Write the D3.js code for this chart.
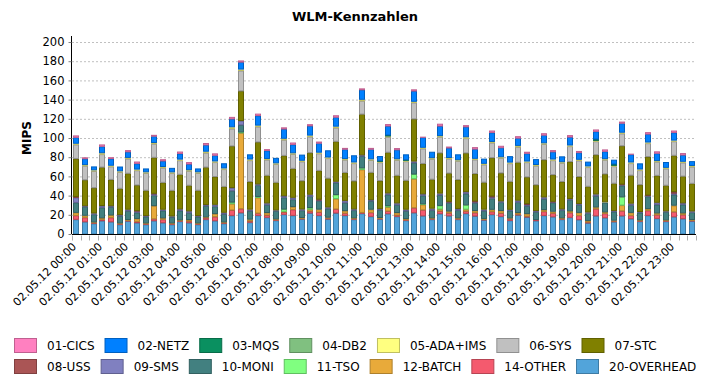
<!DOCTYPE html>
<html><head><meta charset="utf-8">
<script src="https://cdn.jsdelivr.net/npm/d3@7"></script>
<style>body{margin:0;background:#fff}svg{display:block}text{font-family:"DejaVu Sans",sans-serif}</style>
</head><body>
<svg id="c" width="711" height="386"></svg>
<script>
const hours = ["00","01","02","03","04","05","06","07","08","09","10","11","12","13","14","15","16","17","18","19","20","21","22","23"];
const minutes = ["00","20","40"];
const categories = hours.flatMap(h => minutes.map(m => "02.05.12 " + h + ":" + m));
const tickLabels = hours.map(h => "02.05.12 " + h + ":00");
const yTicks = [0,20,40,60,80,100,120,140,160,180,200];

const OVERHEAD = [15.3,12.8,11,13.9,12.8,10,13.5,11.8,10,13.9,11.8,10,13.2,11.8,10,15.3,13.9,11,
 19.4,22.2,12.2,19.4,17.4,14.2,20.5,19.4,15.6,21.9,19.4,15.6,21.9,19.4,15.3,21.5,18.4,15.6,
 21.2,18.4,14.2,22.2,19,15.3,21.2,19,15.3,21.5,18.8,14.6,20.5,18.4,14.2,19.8,17.7,13.9,
 19.4,18,15.3,17.4,15,11.5,19,17,12.8,19,16,13.2,19.4,16.3,13.2,18,16,13.5];
const OTHER = [4.2,4.5,0.7,1.4,4.5,0.7,0.7,1.4,0.7,2,3.5,0.7,0.7,1.7,0.7,1.7,4.2,0.7,
 5.6,4.2,1.4,2.4,2.4,0.7,2.4,6.2,0.7,2,3.5,1,4.2,2.4,0.7,1,4.2,0.7,
 2.8,1.4,0.7,5.2,6.2,0.7,2.8,3,0.7,2.4,3.5,0.7,3,3.5,1.7,1,1,0.7,
 4.2,3.8,0.7,4.9,4.5,1,7.3,4.5,0.7,5.2,3.5,0.7,5.2,3.8,0.7,5.2,4.2,0.7];
const BATCH = [2.8,2,0.7,1.4,2.4,0.7,0.7,2.8,0.7,13.5,1.4,0.7,0.7,1.4,0.7,0.7,3,0.7,
 6.6,79,1.7,16.3,2.4,0.7,0.7,2.8,0.7,2,2.8,0.7,10.8,2.4,0.7,44.8,3,0.7,
 4.2,2.4,1,30.2,5.6,0.7,2,1.7,0.7,2,2,0.7,2,2.4,0.7,1.4,2.4,0.3,
 1.7,1.7,0.7,1.7,2.8,1.4,1.7,1.4,0.7,5.9,2.8,0.7,1.7,1.7,0.7,6.6,1.7,0.7];
const TSO = [0.2,0.2,0.2,0.2,0.2,0.2,0.2,0.2,0.2,0.2,0.2,0.2,0.2,0.2,0.2,0.2,0.2,0.2,
 1.7,1,0.2,1,0.2,0.2,2.4,0.2,0.2,1.7,0.2,0.2,4.2,0.2,0.2,1.7,0.2,0.2,
 1.4,0.2,0.2,4.9,0.7,0.2,3.8,0.2,0.2,4.5,0.2,0.2,0.2,0.2,0.2,0.2,0.2,0.2,
 0.2,0.2,0.2,0.2,0.2,0.2,0.2,0.2,0.2,8.7,0.2,0.2,0.2,0.2,0.2,0.2,0.2,0.2];
const MONI = [10.4,9,8,10.8,8.3,7.3,9,6.2,6.6,10.8,7.6,6.2,9.7,7,6.6,11.5,7.6,8.3,
 11.8,7.3,8.7,11.8,8,8.3,12.2,7.6,7.6,11.8,8.7,9,12.5,8.3,8,12.2,8.7,8,
 11.5,8,8,11.8,8.7,8,10.8,8.7,8,11.8,8,8,11.5,8.7,7.6,10.8,8,8,
 11.1,9,8,11.5,8,7.6,11.5,9.7,9,11.8,7.6,7.6,12.8,8.7,8.3,11.1,8.7,7.6];
const SMS = [5.2,0.7,1,1.7,1,1,1.4,1.4,0.7,1.4,1,0.7,1.4,1.7,0.7,1,1.7,1.4,
 3,4.2,1.4,1,1.7,0.7,1.4,1.7,1,1.7,0.7,1.4,1,2,1,1,1,1,
 1.4,1.7,1.4,1.4,1.4,1.7,1.7,0.7,1.4,1.7,1,1.4,1.4,1,1,1.7,1.4,1,
 1.7,0.7,1,1,1,1,1.7,0.4,0.7,0.7,1.7,0.7,0.7,2,0.7,1.4,1.4,1];
const USS = [1,0.3,0.3,0.3,0.3,0.3,0.3,0.6,0.3,0.6,0.3,0.3,0.3,0.3,0.3,0.3,0.3,0.3,
 0.3,0.3,0.3,0.3,0.3,0.3,0.3,0.3,0.3,0.3,1,0.3,0.3,0.3,0.3,0.3,0.3,0.3,
 0.3,0.3,0.3,0.3,0.3,0.3,0.3,0.7,0.3,0.3,1,0.3,1,0.3,0.3,0.3,1,0.3,
 0.3,0.7,0.3,0.3,0.3,0.3,0.3,0.3,0.3,0.7,0.3,0.3,0.7,0.3,0.3,1.7,0.3,0.3];
const STC = [39.6,27,26.4,40,27.4,27.4,37.5,26.7,26.4,37.5,28,26.7,36,26.7,26.4,39,29,27,
 43.4,30.9,28.8,43.7,28.8,28.8,42,30.2,29.5,43.4,30,30,41.7,29.2,29.2,42.4,28.5,29.2,
 42.4,28.8,30.2,44,31.6,30.2,42,29.5,30.2,40.3,28.5,28.1,40,29.2,29.2,39.6,27.8,27,
 38.9,27.8,28.5,38.5,28.1,26.7,41,29.2,28.5,40,29.2,28.1,40,28.1,26.7,37.8,27.8,28.8];
const SYS = [14.6,14.6,17.4,13.5,13.5,17,15.3,15.3,18,14.2,15.3,18,14.6,15,18,15,15,18,
 18,21.2,22.2,16,16.3,19,16.3,15,20,16.7,17.7,20.8,14.2,13.2,18.4,13.9,12.8,19,
 16,16,19.8,17,15.6,21.2,16.7,15,19.4,15.3,14.6,18.4,15.6,15.6,18.8,16,15.3,19.8,
 16.3,15,19.4,16,16.7,20,13.9,14.6,17.7,12.8,12.5,15,13.9,14.2,17.4,14.6,14.2,17.4];
const ADA = [0.7,0.7,0.7,1,0.7,0.7,0.7,0.7,0.7,0.7,0.7,0.7,0.7,0.7,0.7,1,0.7,0.7,
 1.4,1,0.7,1,0.7,0.7,1,0.7,0.7,1,0.7,0.7,1,0.7,0.7,1,0.7,0.7,
 0.7,0.7,0.7,0.7,0.7,0.7,0.7,0.7,0.7,1,0.7,0.7,0.7,0.7,0.7,1,0.7,0.7,
 0.7,0.7,0.7,0.7,0.7,0.7,0.7,0.7,0.7,0.7,0.7,0.7,0.7,0.7,0.7,0.7,0.7,0.7];
const DB2 = [0.2,0.2,0.2,0.2,0.2,0.2,0.2,0.2,0.2,0.2,0.2,0.2,0.2,0.2,0.2,0.2,0.2,0.2,
 0.2,0.2,0.2,0.2,0.2,0.2,0.2,0.2,0.2,0.2,0.2,0.2,0.2,0.2,0.2,0.2,0.2,0.2,
 0.2,0.2,0.2,0.2,0.2,0.2,0.2,0.2,0.2,0.2,0.2,0.2,0.2,0.2,0.2,0.2,0.2,0.2,
 0.2,0.2,0.2,0.2,0.2,0.2,0.2,0.2,0.2,0.2,0.2,0.2,0.2,0.2,0.2,0.2,0.2,0.2];
const MQS = [0.3,0.3,0.3,0.3,0.3,0.3,0.3,0.3,0.3,0.3,0.3,0.3,0.3,0.3,0.3,0.3,0.3,0.3,
 0.3,0.3,0.3,0.3,0.3,0.3,0.3,0.3,0.3,0.3,0.3,0.3,0.3,0.3,0.3,0.3,0.3,0.7,
 1,0.3,0.7,0.3,0.3,0.3,0.3,0.3,0.3,0.3,0.3,0.3,0.3,0.3,0.3,0.3,0.3,0.3,
 0.3,0.3,0.3,0.3,0.3,0.3,1.4,0.3,1.4,0.3,0.3,0.3,0.3,0.3,0.3,0.3,0.3,0.3];
const NETZ = [6.2,6.2,3.5,6.6,7,4.5,5.9,5.9,3.5,6.6,5.9,4.2,5.9,5.9,3.5,6.6,5.9,4.9,
 8.3,7.3,4.9,10,8.3,5.2,9.7,8.7,5.9,9.7,9.4,7,9.4,9.7,7,10,10,4.9,
 9.4,9.4,5.6,10.8,10.4,6.2,10,10,5.6,10.4,9.7,4.9,9.4,9.4,6.2,7.6,8,5.6,
 8,7.6,5.6,8.3,7,4.5,8,7.6,4.5,9.4,8,5.9,8.3,7.6,5.6,8,6.6,4.5];
const CICS = [2,1.4,0.3,2,1.4,0.3,1.7,2,0.3,1.4,1.7,0.3,2,2,0.3,2,2,0.3,
 2,1.7,0.3,2,1.4,0.3,1.7,2,0.3,1.7,1.7,0.3,2,1.4,0.3,1.4,1.4,0.3,
 2,1.7,0.3,1.7,0.7,0.3,2.4,1.4,0.3,1.7,2,0.3,2,2,0.3,2,1.7,0.3,
 2,1.7,0.3,2,1.7,0.3,2,2,0.3,1.7,0.7,0.3,2,2,0.3,2,2,0.3];

const seriesNames = ["20-OVERHEAD","14-OTHER","12-BATCH","11-TSO","10-MONI","09-SMS","08-USS","07-STC","06-SYS","05-ADA+IMS","04-DB2","03-MQS","02-NETZ","01-CICS"];
const seriesValues = [OVERHEAD,OTHER,BATCH,TSO,MONI,SMS,USS,STC,SYS,ADA,DB2,MQS,NETZ,CICS];
const seriesColors = ["#52a4da","#f45a6e","#e8aa3a","#80ff80","#428080","#8080c0","#aa5555","#808000","#c0c0c0","#ffff80","#80c080","#0a9060","#0080ff","#ff80c0"];
const legendRow1 = ["01-CICS","02-NETZ","03-MQS","04-DB2","05-ADA+IMS","06-SYS","07-STC"];
const legendRow2 = ["08-USS","09-SMS","10-MONI","11-TSO","12-BATCH","14-OTHER","20-OVERHEAD"];

const rows = categories.map((c, i) => {
  const r = {cat: c};
  seriesNames.forEach((s, k) => r[s] = seriesValues[k][i]);
  return r;
});
const color = d3.scaleOrdinal(seriesNames, seriesColors);

const svg = d3.select("#c");
const L = 72, R = 696, T = 42, B = 234;
const x = d3.scaleBand(categories, [L, R]).paddingInner(0.3).paddingOuter(0.15);
const y = d3.scaleLinear([0, 200], [B, T]);

svg.append("text").attr("x", 355).attr("y", 21).attr("text-anchor", "middle")
  .attr("font-size", 13).attr("font-weight", "bold").text("WLM-Kennzahlen");

// grid
svg.append("g").selectAll("line").data(yTicks.filter(d => d > 0)).join("line")
  .attr("x1", L).attr("x2", R).attr("y1", d => y(d) + 0.5).attr("y2", d => y(d) + 0.5)
  .attr("stroke", "#c0c0c0").attr("stroke-dasharray", "2,2");

// bars
const stack = d3.stack().keys(seriesNames)(rows);
svg.append("g").selectAll("g").data(stack).join("g")
  .attr("fill", d => color(d.key))
  .attr("stroke", d => d3.color(color(d.key)).darker(0.8))
  .attr("stroke-width", 1)
  .selectAll("rect").data(d => d).join("rect")
  .attr("x", d => Math.round(x(d.data.cat)) + 0.5)
  .attr("width", Math.round(x.bandwidth()) - 1)
  .attr("y", d => y(d[1]) + 0.5)
  .attr("height", d => Math.max(0, y(d[0]) - y(d[1]) - 0.5));

// y axis
const ya = svg.append("g").attr("transform", `translate(${L - 0.5},0)`)
  .call(d3.axisLeft(y).tickValues(yTicks).tickSize(3).tickPadding(4));
ya.select(".domain").attr("stroke", "#000").attr("d", `M-0,${B}V${T - 6}`);
ya.selectAll(".tick line").attr("stroke", "#808080");
ya.selectAll("text").attr("font-size", 11.5).attr("font-family", "DejaVu Sans").attr("fill", "#000");

svg.append("text").attr("transform", `translate(31,${(T + B) / 2}) rotate(-90)`)
  .attr("text-anchor", "middle").attr("font-size", 12).attr("font-weight", "bold").text("MIPS");

// x axis
const xa = svg.append("g").attr("transform", `translate(0,${B + 0.5})`);
xa.append("line").attr("x1", L).attr("x2", R).attr("stroke", "#000");
xa.selectAll("line.t").data(d3.range(categories.length + 1)).join("line").attr("class", "t")
  .attr("x1", i => Math.round(L + i * (R - L) / categories.length) + 0.5)
  .attr("x2", i => Math.round(L + i * (R - L) / categories.length) + 0.5)
  .attr("y1", 1).attr("y2", 6).attr("stroke", "#b0b0b0");
xa.selectAll("text").data(tickLabels).join("text")
  .attr("transform", d => `translate(${x(d) + x.bandwidth() / 2 - 2},${10}) rotate(-45)`)
  .attr("text-anchor", "end").attr("font-size", 11).attr("dy", "0.35em").text(d => d);

// legend
function legendRow(items, top) {
  let cx = 14;
  items.forEach(name => {
    const g = svg.append("g");
    g.append("rect").attr("x", cx + 0.5).attr("y", top + 0.5).attr("width", 22).attr("height", 14)
      .attr("fill", color(name)).attr("stroke", d3.color(color(name)).darker(0.8));
    const t = g.append("text").attr("x", cx + 33).attr("y", top + 12).attr("font-size", 12).text(name);
    cx = cx + 33 + t.node().getComputedTextLength() + 10;
  });
}
legendRow(legendRow1, 338);
legendRow(legendRow2, 359);
</script>
</body></html>
